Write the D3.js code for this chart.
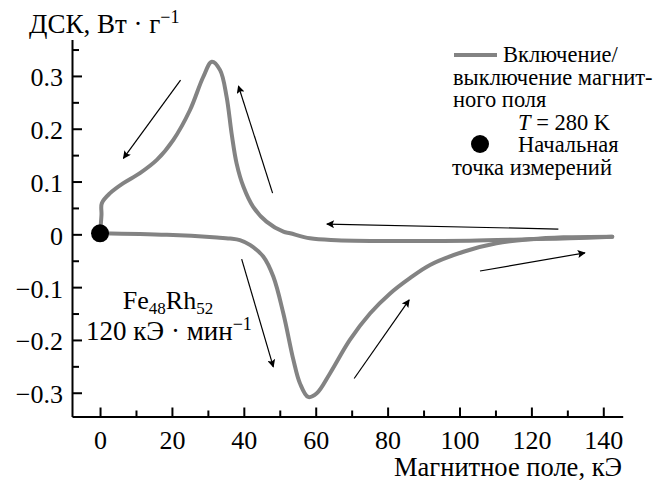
<!DOCTYPE html>
<meta charset="utf-8">
<style>
body { margin: 0; background: #fff; }
.axis path, .axis line { stroke: #000; stroke-width: 2px; }
</style>
<svg id="chart"></svg>
<script src="https://d3js.org/d3.v7.min.js"></script>
<script>

// прямой ход: поле включается 0 -> 143 кЭ
var fieldUp = [0, 18.6, 32.5, 36.2, 38.9, 41.7, 45.4, 48.2, 51.0, 53.8, 55.6, 57.9, 60.3, 64.0, 69.5, 75.1, 80.7, 86.2, 91.8, 101.1, 110.3, 119.6, 128.9, 142.5];
var dscUp = [0.002, -0.001, -0.006, -0.008, -0.011, -0.02, -0.042, -0.080, -0.150, -0.238, -0.282, -0.308, -0.301, -0.263, -0.200, -0.150, -0.112, -0.083, -0.058, -0.033, -0.017, -0.0095, -0.0057, -0.0045];

// обратный ход: поле выключается 143 -> 0 кЭ
var fieldDown = [142.5, 130.7, 121.5, 102.9, 84.3, 65.8, 58.4, 52.9, 51.0, 46.3, 42.6, 39.9, 38.0, 36.6, 35.2, 33.4, 31.1, 28.7, 25.0, 20.4, 15.8, 11.1, 6.5, 2.8, 0.5, 0.4, 0];
var dscDown = [-0.0045, -0.0076, -0.0089, -0.012, -0.0127, -0.011, -0.0076, 0.002, 0.005, 0.024, 0.052, 0.090, 0.134, 0.191, 0.261, 0.311, 0.327, 0.298, 0.235, 0.179, 0.141, 0.116, 0.097, 0.078, 0.059, 0.037, 0.002];

var xTicks = [0, 20, 40, 60, 80, 100, 120, 140];
var xMinor = [10, 30, 50, 70, 90, 110, 130];
var yTicks = [-0.3, -0.2, -0.1, 0, 0.1, 0.2, 0.3];
var yMinor = [-0.25, -0.15, -0.05, 0.05, 0.15, 0.25, 0.35];

// стрелки направления хода [x1, y1, x2, y2] в единицах данных
var arrows = [
  [22.4, 0.292, 6.5, 0.144],
  [48.0, 0.078, 38.5, 0.281],
  [127.5, 0.010, 63.1, 0.0195],
  [105.7, -0.0695, 134.9, -0.035],
  [70.7, -0.273, 86.0, -0.124],
  [39.4, -0.047, 48.2, -0.251]
];

var width = 653,
    height = 482;

var serif = "'Liberation Serif'";

var x = d3.scaleLinear()
    .domain([-7.8, 145.4])
    .range([72, 622.7]);

var y = d3.scaleLinear()
    .domain([-0.345, 0.369])
    .range([416.5, 39.5]);

var svg = d3.select("#chart")
    .attr("width", width)
    .attr("height", height);

var defs = svg.append("defs");
defs.append("marker")
    .attr("id", "head")
    .attr("viewBox", "0 0 10 10")
    .attr("refX", 9)
    .attr("refY", 5)
    .attr("markerWidth", 11)
    .attr("markerHeight", 8)
    .attr("markerUnits", "userSpaceOnUse")
    .attr("orient", "auto")
  .append("path")
    .attr("d", "M0,0L10,5L0,10L2,5Z")
    .attr("fill", "#000");

// оси
svg.append("g")
    .attr("class", "axis")
    .attr("transform", "translate(0," + y.range()[0] + ")")
    .call(d3.axisBottom(x).tickValues(xMinor).tickSize(-6).tickFormat(""))
    .call(function(g) { g.select(".domain").remove(); });

svg.append("g")
    .attr("class", "axis")
    .attr("transform", "translate(0," + y.range()[0] + ")")
    .call(d3.axisBottom(x).tickValues(xTicks).tickSizeInner(-9).tickSizeOuter(0).tickPadding(14))
    .selectAll("text")
    .style("font-size", "26px");

svg.append("g")
    .attr("class", "axis")
    .attr("transform", "translate(" + x.range()[0] + ",0)")
    .call(d3.axisLeft(y).tickValues(yMinor).tickSize(-7).tickFormat(""))
    .call(function(g) { g.select(".domain").remove(); });

svg.append("g")
    .attr("class", "axis")
    .attr("transform", "translate(" + x.range()[0] + ",0)")
    .call(d3.axisLeft(y).tickValues(yTicks).tickSizeInner(-10).tickSizeOuter(0).tickPadding(9)
      .tickFormat(function(d) { return d === 0 ? "0" : d3.format(".1f")(d).replace("-", "\u2212"); }))
    .selectAll("text")
    .attr("dy", "0.38em")
    .style("font-size", "26px");

// кривая ДСК
var line = d3.line()
    .x(function(d) { return x(d[0]); })
    .y(function(d) { return y(d[1]); })
    .curve(d3.curveCatmullRom.alpha(0.5));

var up = fieldUp.map(function(f, i) { return [f, dscUp[i]]; });
var down = fieldDown.map(function(f, i) { return [f, dscDown[i]]; });

svg.selectAll("path.dsc")
    .data([down, up])
  .enter().append("path")
    .attr("class", "dsc")
    .attr("d", line)
    .attr("fill", "none")
    .attr("stroke", "#838383")
    .attr("stroke-width", 4)
    .attr("stroke-linejoin", "round")
    .attr("stroke-linecap", "round");

// начальная точка
svg.append("circle")
    .attr("cx", x(0))
    .attr("cy", y(0.002))
    .attr("r", 9)
    .attr("fill", "#000");

// стрелки
svg.selectAll("line.arrow")
    .data(arrows)
  .enter().append("line")
    .attr("class", "arrow")
    .attr("x1", function(d) { return x(d[0]); })
    .attr("y1", function(d) { return y(d[1]); })
    .attr("x2", function(d) { return x(d[2]); })
    .attr("y2", function(d) { return y(d[3]); })
    .attr("stroke", "#000")
    .attr("stroke-width", 1.2)
    .attr("marker-end", "url(#head)");

// подписи осей
var yt = svg.append("text")
    .attr("x", 29)
    .attr("y", 33)
    .style("font-size", "27px");
yt.append("tspan").text("ДСК, Вт · г");
yt.append("tspan").attr("dy", -10).style("font-size", "18px").text("\u22121");

svg.append("text")
    .attr("x", 622)
    .attr("y", 476)
    .attr("text-anchor", "end")
    .style("font-size", "26.5px")
    .text("Магнитное поле, кЭ");

// образец и скорость
var fe = svg.append("text")
    .attr("x", 168)
    .attr("y", 309)
    .attr("text-anchor", "middle")
    .style("font-size", "26px");
fe.append("tspan").text("Fe");
fe.append("tspan").attr("dy", 5).style("font-size", "17px").text("48");
fe.append("tspan").attr("dy", -5).text("Rh");
fe.append("tspan").attr("dy", 5).style("font-size", "17px").text("52");

var rate = svg.append("text")
    .attr("x", 86)
    .attr("y", 340)
    .style("font-size", "27px");
rate.append("tspan").text("120 кЭ · мин");
rate.append("tspan").attr("dy", -10).style("font-size", "18px").text("\u22121");

// легенда
svg.append("line")
    .attr("x1", 454).attr("x2", 497)
    .attr("y1", 55).attr("y2", 55)
    .attr("stroke", "#838383")
    .attr("stroke-width", 4);

var legend = [
  ["Включение/", 503, 62],
  ["выключение магнит-", 453, 85],
  ["ного поля", 453, 107]
];
svg.selectAll("text.leg")
    .data(legend)
  .enter().append("text")
    .attr("class", "leg")
    .attr("x", function(d) { return d[1]; })
    .attr("y", function(d) { return d[2]; })
    .style("font-size", "22.5px")
    .text(function(d) { return d[0]; });

var tt = svg.append("text")
    .attr("x", 518)
    .attr("y", 130)
    .style("font-size", "22.5px");
tt.append("tspan").style("font-style", "italic").text("T");
tt.append("tspan").text(" = 280 K");

svg.append("circle")
    .attr("cx", 480)
    .attr("cy", 144)
    .attr("r", 9)
    .attr("fill", "#000");

svg.append("text")
    .attr("x", 518)
    .attr("y", 152)
    .style("font-size", "22.5px")
    .text("Начальная");

svg.append("text")
    .attr("x", 452)
    .attr("y", 175)
    .style("font-size", "22.5px")
    .text("точка измерений");

// шрифт для всех подписей
svg.selectAll("text")
    .style("font-family", serif)
    .style("fill", "#000");

</script>
